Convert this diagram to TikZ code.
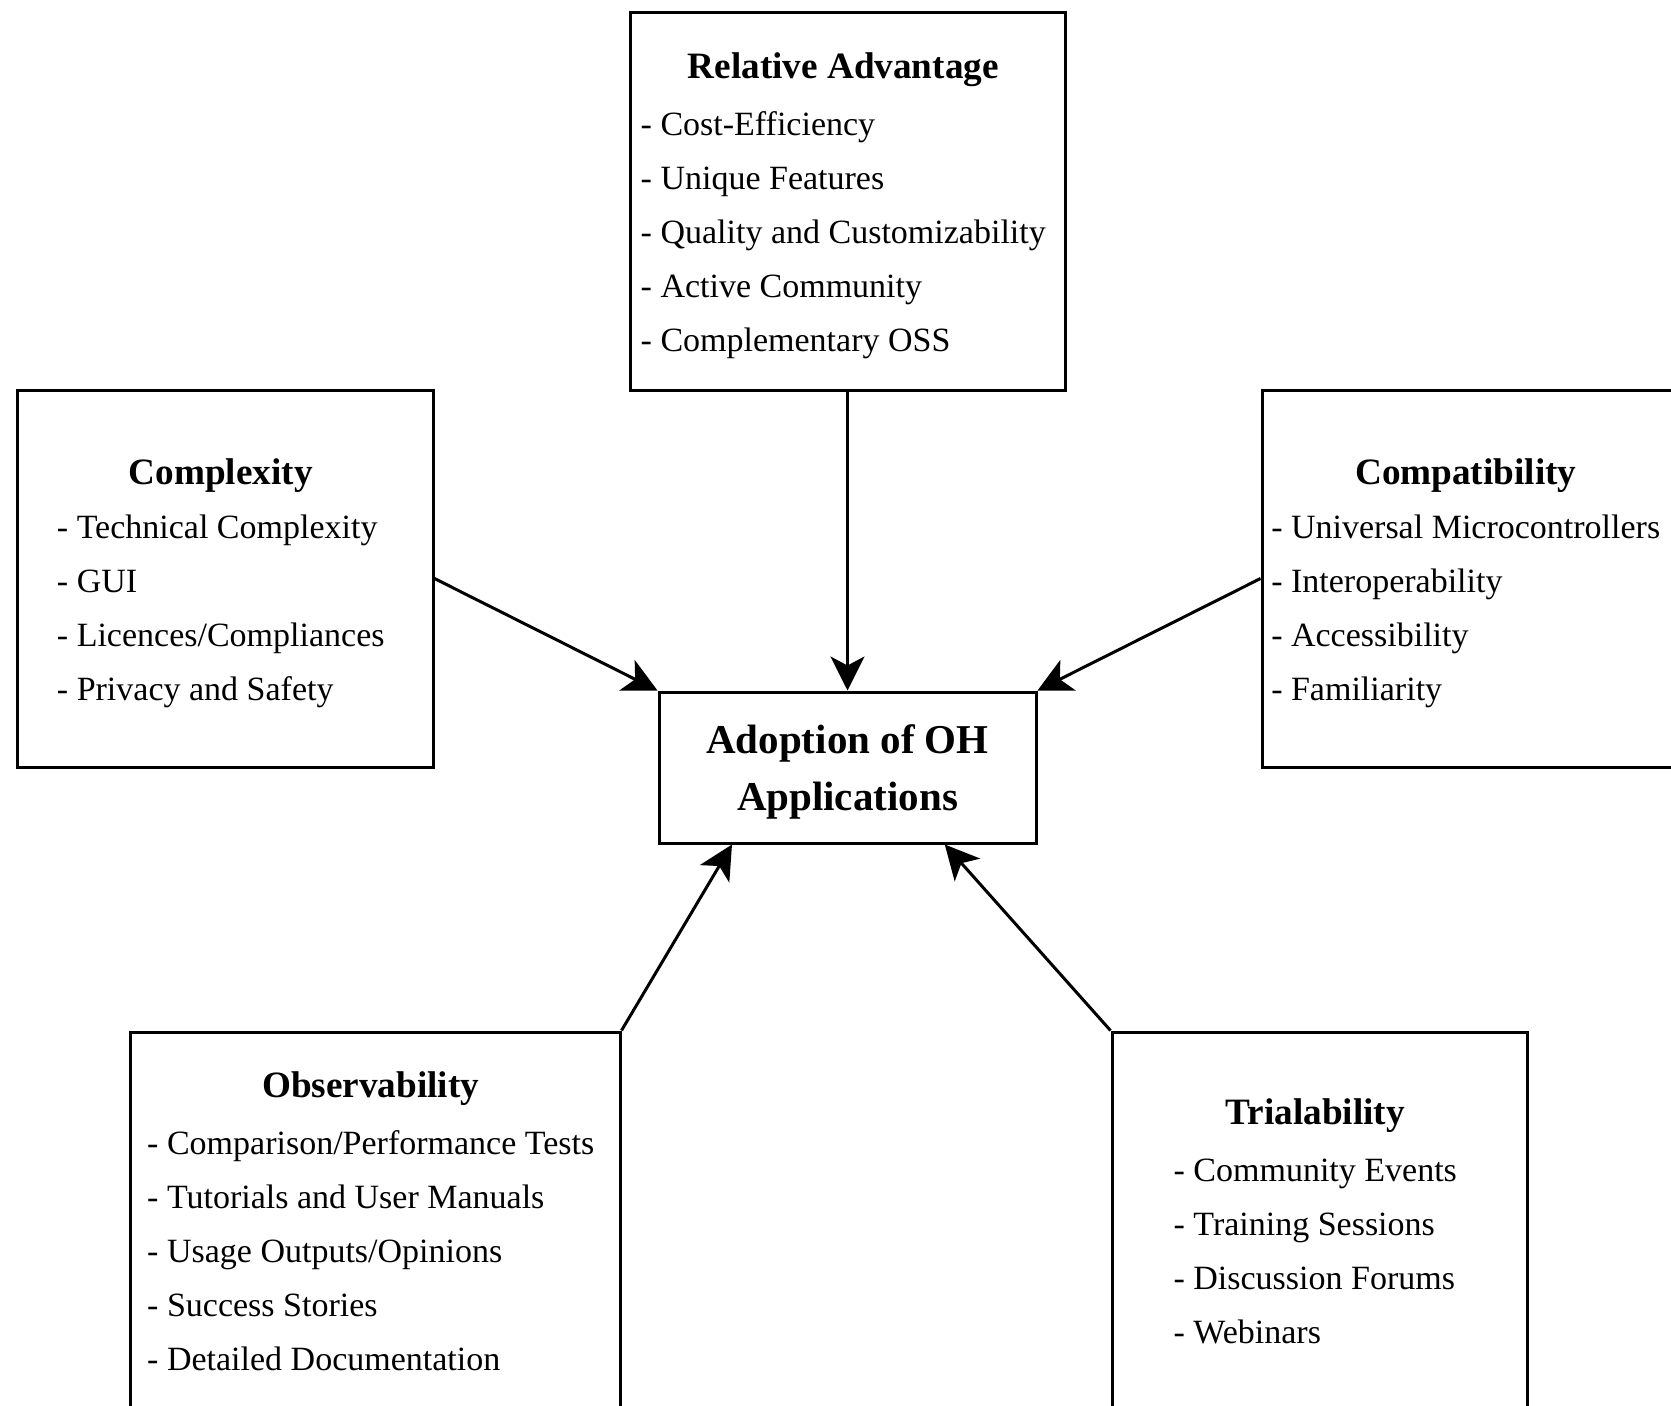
\documentclass[tikz,border=0pt]{standalone}
\usepackage{fontspec}
\setmainfont{Liberation Serif}
\usepackage{tikz}
\usetikzlibrary{
    positioning,
    arrows.meta,
    calc
}
\renewcommand{\arraystretch}{1.35}
\tikzset{
    % box for one factor
    factor/.style={
        rectangle,
        draw=black,
        line width=1.5pt,
        fill=white,
        inner sep=0pt,
        align=center,
        font=\fontsize{17}{20}\selectfont
    },
    % central box
    target/.style={
        factor,
        minimum width=188.5pt,
        minimum height=75.5pt,
        text height=47.8pt,
        font=\fontsize{20.5}{28.5}\selectfont\bfseries
    },
    % arrows into the centre
    arrow/.style={
        -{Stealth[length=17pt, width=17pt, inset=4.5pt]},
        line width=1.5pt,
        color=black
    }
}
\newcommand{\factortitle}[1]{\multicolumn{1}{@{}c@{}}{\fontsize{18.6}{20}\selectfont\bfseries #1}}

\begin{document}
\begin{tikzpicture}[x=0.5pt, y=-0.5pt]

    % page frame
    \useasboundingbox (0,0) rectangle (1671,1405);
    \fill[white] (0,0) rectangle (1671,1405);
    \clip (0,0) rectangle (1671,1405);

    % centre
    \node[target] (adopt) at (847.5,767.5) {Adoption of OH\\Applications};

    % Relative Advantage
    \node[factor, minimum width=217.5pt, minimum height=189pt, text height=22pt] (reladv) at (847.5,201) {
        \begin{tabular}[t]{@{}l@{}}
        \factortitle{Relative Advantage}\\[1.5pt]
        - Cost-Efficiency\\
        - Unique Features\\
        - Quality and Customizability\\
        - Active Community\\
        - Complementary OSS
        \end{tabular}
    };

    % Complexity
    \node[factor, minimum width=208pt, minimum height=188.5pt, text height=22.5pt] (complex) at (225,578.5) {
        \begin{tabular}[t]{@{}l@{}}
        \factortitle{Complexity}\\
        - Technical Complexity\\
        - GUI\\
        - Licences/Compliances\\
        - Privacy and Safety
        \end{tabular}
    };

    % Compatibility (runs off the right edge)
    \node[factor, minimum width=208pt, minimum height=188.5pt, text height=22.5pt] (compat) at (1470,578.5) {
        \begin{tabular}[t]{@{}l@{}}
        \factortitle{Compatibility}\\
        - Universal Microcontrollers\\
        - Interoperability\\
        - Accessibility\\
        - Familiarity
        \end{tabular}
    };

    % Observability (runs off the bottom edge)
    \node[factor, minimum width=245pt, minimum height=191pt] (observ) at (375,1223) {
        \begin{tabular}{@{}l@{}}
        \factortitle{Observability}\\[1.5pt]
        - Comparison/Performance Tests\\
        - Tutorials and User Manuals\\
        - Usage Outputs/Opinions\\
        - Success Stories\\
        - Detailed Documentation
        \end{tabular}
    };

    % Trialability
    \node[factor, minimum width=207.5pt, minimum height=191pt] (trial) at (1319.5,1223) {
        \begin{tabular}{@{}l@{}}
        \factortitle{Trialability}\\[1.5pt]
        - Community Events\\
        - Training Sessions\\
        - Discussion Forums\\
        - Webinars
        \end{tabular}
    };

    % arrows
    \draw[arrow] (reladv.south) -- (adopt.north);
    \draw[arrow] (complex.east) -- (adopt.north west);
    \draw[arrow] (compat.west) -- (adopt.north east);
    \draw[arrow] (observ.north east) -- ($(adopt.south west)!0.196!(adopt.south east)$);
    \draw[arrow] (trial.north west) -- ($(adopt.south west)!0.756!(adopt.south east)$);

\end{tikzpicture}
\end{document}
